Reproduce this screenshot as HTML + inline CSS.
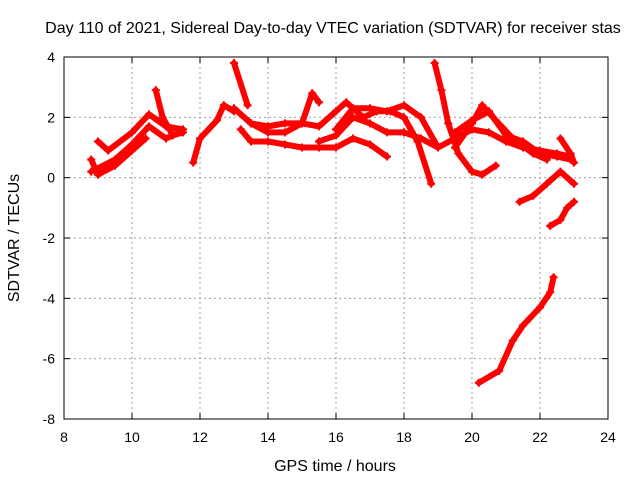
<!DOCTYPE html>
<html><head><meta charset="utf-8"><style>
body{margin:0;background:#fff;}
svg text{font-family:"Liberation Sans",sans-serif;font-size:14px;fill:#000;}
svg text.big{font-size:16px;}
</style></head><body>
<svg width="640" height="480">
<text class="big" x="333" y="33" text-anchor="middle">Day 110 of 2021, Sidereal Day-to-day VTEC variation (SDTVAR) for receiver stas</text>
<g id="grid"></g>
<g id="marks"></g>
<rect x="64" y="57" width="544" height="362" fill="none" stroke="#000"/>
<g id="ticks"></g>
<text class="big" x="335" y="471" text-anchor="middle">GPS time / hours</text>
<text class="big" transform="translate(19,238) rotate(-90)" text-anchor="middle">SDTVAR / TECUs</text>
</svg>
<script>
const xTicks=[8,10,12,14,16,18,20,22,24];
const yTicks=[4,2,0,-2,-4,-6,-8];
const trackA=[[9.0,1.2],[9.3,0.9],[10.0,1.5],[10.5,2.1],[11.0,1.7],[11.5,1.6]];
const trackB=[[8.8,0.2],[9.5,0.6],[10.0,1.1],[10.5,1.7],[11.0,1.3],[11.4,1.5]];
const trackC=[[8.8,0.6],[9.0,0.1],[9.5,0.4],[10.0,0.9],[10.4,1.3]];
const trackD=[[10.7,2.9],[10.9,2.0],[11.2,1.4],[11.5,1.5]];
const trackE=[[11.8,0.5],[12.0,1.3],[12.5,1.9],[12.7,2.4],[13.0,2.2]];
const trackF=[[13.0,3.8],[13.4,2.4]];
const trackG=[[13.0,2.3],[13.5,1.8],[14.0,1.5],[14.5,1.5],[15.0,1.8],[15.3,2.8],[15.5,2.5]];
const trackH=[[13.2,1.6],[13.5,1.2],[14.0,1.2],[14.5,1.1],[15.0,1.0],[15.5,1.0],[16.0,1.0],[16.5,1.3],[17.0,1.1],[17.5,0.7]];
const trackI=[[13.5,1.8],[14.0,1.7],[14.5,1.8],[15.0,1.8],[15.5,1.7],[16.0,2.2],[16.3,2.5],[16.8,2.0],[17.2,2.2],[17.6,2.2],[18.0,2.0],[18.4,1.2],[18.8,-0.2]];
const trackJ=[[15.5,1.2],[16.0,1.4],[16.5,2.0],[17.0,1.8],[17.5,1.5],[18.0,1.5],[18.5,1.3],[19.0,1.0],[19.5,1.3],[20.0,1.6],[20.5,1.5],[21.0,1.2],[21.5,1.0],[22.0,0.9],[22.5,0.8],[22.9,0.7]];
const trackK=[[18.9,3.8],[19.1,2.9],[19.3,1.8],[19.6,0.8],[20.0,0.2],[20.3,0.1],[20.7,0.4]];
const trackL=[[19.5,1.0],[20.0,1.8],[20.3,2.4],[20.7,1.9],[21.2,1.3],[21.8,0.8],[22.2,0.6]];
const trackM=[[21.4,-0.8],[21.8,-0.6],[22.2,-0.2],[22.6,0.2],[23.0,-0.2]];
const trackN=[[22.3,-1.6],[22.6,-1.4],[22.8,-1.0],[23.0,-0.8]];
const trackO=[[20.2,-6.8],[20.8,-6.4],[21.2,-5.4],[21.5,-4.9],[22.0,-4.3],[22.3,-3.8],[22.4,-3.3]];
const trackP=[[22.6,1.3],[22.9,0.8],[23.0,0.5]];
const trackQ=[[16.0,1.6],[16.5,2.3],[17.0,2.3],[17.5,2.2],[18.0,2.4],[18.5,2.0],[19.0,1.0]];
const trackR=[[19.5,1.5],[20.0,1.9],[20.5,2.2],[21.0,1.4],[21.5,1.2],[22.0,0.8],[22.5,0.7],[22.9,0.6]];
const tracks=[trackA,trackB,trackC,trackD,trackE,trackF,trackG,trackH,trackI,trackJ,trackK,trackL,trackM,trackN,trackO,trackP,trackQ,trackR];
const NS='http://www.w3.org/2000/svg';
const X0=64,X1=608,Y0=419,Y1=57;
function xs(v){return X0+(v-8)/16*(X1-X0);}
function ys(v){return Y0-(v+8)/12*(Y0-Y1);}
function mk(t,a,p){const e=document.createElementNS(NS,t);for(const k in a)e.setAttribute(k,a[k]);p.appendChild(e);return e;}
const grid=document.getElementById('grid'),ticks=document.getElementById('ticks'),marks=document.getElementById('marks');
xTicks.forEach(v=>{const x=xs(v);
 if(v>8&&v<24){const g=mk('line',{x1:x,x2:x,y1:Y0,y2:Y1,stroke:'#a0a0a0','stroke-dasharray':'2,3'},grid);
 
 }
 mk('line',{x1:x,x2:x,y1:Y0,y2:Y0-6,stroke:'#000'},ticks);
 mk('line',{x1:x,x2:x,y1:Y1,y2:Y1+6,stroke:'#000'},ticks);
 const t=mk('text',{x:x,y:Y0+23,'text-anchor':'middle'},ticks);t.textContent=v;
 
 });
yTicks.forEach(v=>{const y=ys(v);
 if(v>-8&&v<4){const g=mk('line',{x1:X0,x2:X1,y1:y,y2:y,stroke:'#a0a0a0','stroke-dasharray':'2,3'},grid);
 
 }
 mk('line',{x1:X0,x2:X0+6,y1:y,y2:y,stroke:'#000'},ticks);
 mk('line',{x1:X1,x2:X1-6,y1:y,y2:y,stroke:'#000'},ticks);
 const t=mk('text',{x:X0-9,y:y+5,'text-anchor':'end'},ticks);t.textContent=v;
 
 });
tracks.forEach((tr,i)=>{
 const pl=mk('polyline',{points:tr.map(p=>xs(p[0])+','+ys(p[1])).join(' '),fill:'none',stroke:'#ff0000','stroke-width':6,'stroke-linejoin':'round','stroke-linecap':'round'},marks);
 
 
 tr.forEach(p=>{const x=xs(p[0]),y=ys(p[1]);
  mk('path',{d:`M${x-4},${y}H${x+4}M${x},${y-4}V${y+4}`,stroke:'#ff0000','stroke-width':2},marks);});
});
</script>
</body></html>
